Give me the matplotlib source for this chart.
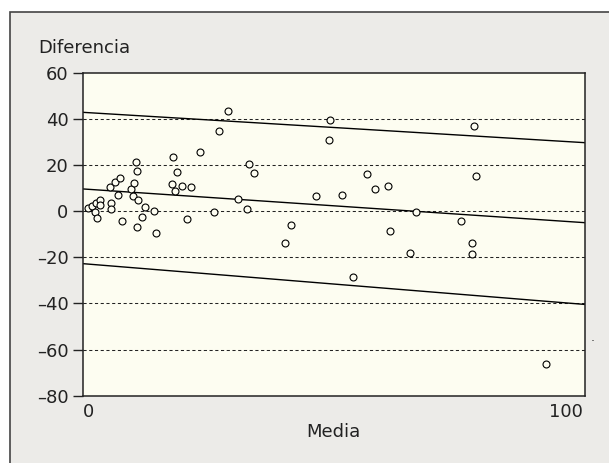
import numpy as np
import matplotlib
matplotlib.use("Agg")
import matplotlib.pyplot as plt
from matplotlib.patches import Rectangle

plt.rcParams["font.family"] = ["DejaVu Sans"]

# ── data ──────────────────────────────────────────────────────────────────────
media = [-0.2, 0.8, 1.3, 1.6, 1.8, 2.4, 2.4, 4.5, 4.8, 4.8,
         5.6, 6.2, 6.5, 7.1, 8.9, 9.3, 9.6, 9.9, 10.2, 10.4,
         10.2, 11.3, 11.8, 13.8, 14.2, 17.4, 17.8, 18.2, 18.5, 19.5,
         20.6, 21.5, 23.3, 26.2, 27.3, 29.3, 31.3, 33.2, 33.6, 34.7,
         47.6, 53.1, 60.0, 62.8, 68.6, 78.1, 42.4, 41.1, 63.1, 67.3,
         55.4, 50.6, 50.4, 58.4, 80.8, 81.2, 80.4, 80.4, 95.8]
diferencia = [1.3, 2.0, -0.3, 3.5, -2.9, 4.9, 2.5, 10.5, 3.3, 0.7,
              12.6, 7.1, 14.2, -4.5, 9.4, 6.4, 12.3, 21.1, 17.5, 4.6,
              -6.9, -2.7, 1.6, -0.1, -9.5, 11.8, 23.4, 8.5, 16.8, 10.7,
              -3.6, 10.4, 25.4, -0.4, 34.8, 43.3, 5.1, 0.7, 20.5, 16.6,
              6.5, 6.8, 9.7, 10.8, -0.3, -4.2, -6.2, -13.9, -8.7, -18.1,
              -28.5, 39.4, 30.9, 16.0, 36.8, 15.2, -13.7, -18.8, -66.1]

# regression line + limits: intercept, slope
line_intercepts = [42.6, 9.4, -23.0]
line_slopes     = [-0.125, -0.139, -0.168]

grid_levels = [40, 20, 0, -20, -40, -60]
y_ticks     = [60, 40, 20, 0, -20, -40, -60, -80]
x_ticks     = [0, 100]

XLIM = (-1.15, 103.9)
YLIM = (-80, 60)

# ── figure ────────────────────────────────────────────────────────────────────
fig = plt.figure(figsize=(6.09, 4.63), dpi=100, facecolor="white")

# grey panel with dark border behind everything
fig.patches.append(Rectangle((10 / 609, -0.05), 1.0, 1 - 12 / 463 + 0.05,
                             transform=fig.transFigure, facecolor="#ecebe8",
                             edgecolor="#444444", linewidth=1.2, zorder=-10))

ax = fig.add_axes([83 / 609, 1 - 395.7 / 463, (584.5 - 83) / 609, (395.7 - 72.5) / 463])
ax.set_zorder(5)
ax.set_facecolor("#fdfdf1")

for lvl in grid_levels:
    ax.axhline(lvl, color="#222222", linewidth=0.75, linestyle=(0, (3, 2.5)), zorder=1)

xs = np.array(XLIM)
for b, m in zip(line_intercepts, line_slopes):
    ax.plot(xs, b + m * xs, color="black", linewidth=1.0, zorder=2)

ax.plot(media, diferencia, linestyle="none", marker="o", markersize=5,
        markerfacecolor="#fdfdf1", markeredgecolor="black", markeredgewidth=0.8, zorder=3)

ax.set_xlim(*XLIM)
ax.set_ylim(*YLIM)
ax.set_yticks(y_ticks)
ax.set_yticklabels([f"{v}".replace("-", "\u2013") for v in y_ticks])
ax.set_xticks(x_ticks)
ax.tick_params(axis="y", direction="out", length=7, width=1.0, pad=3.5,
               labelsize=13, colors="#222222")
ax.tick_params(axis="x", length=0, pad=5, labelsize=13, colors="#222222")

for side in ["left", "bottom", "top", "right"]:
    ax.spines[side].set_linewidth(1.1)
    ax.spines[side].set_color("#222222")

ax.set_xlabel("Media", fontsize=13, color="#222222", labelpad=2)
fig.text(38.5 / 609, 1 - 53.3 / 463, "Diferencia", fontsize=13, color="#222222",
         ha="left", va="baseline")
fig.text(593 / 609, 1 - 344 / 463, ".", fontsize=9, color="#333333",
         ha="center", va="bottom")

plt.savefig("out.png", dpi=100)
plt.close()
